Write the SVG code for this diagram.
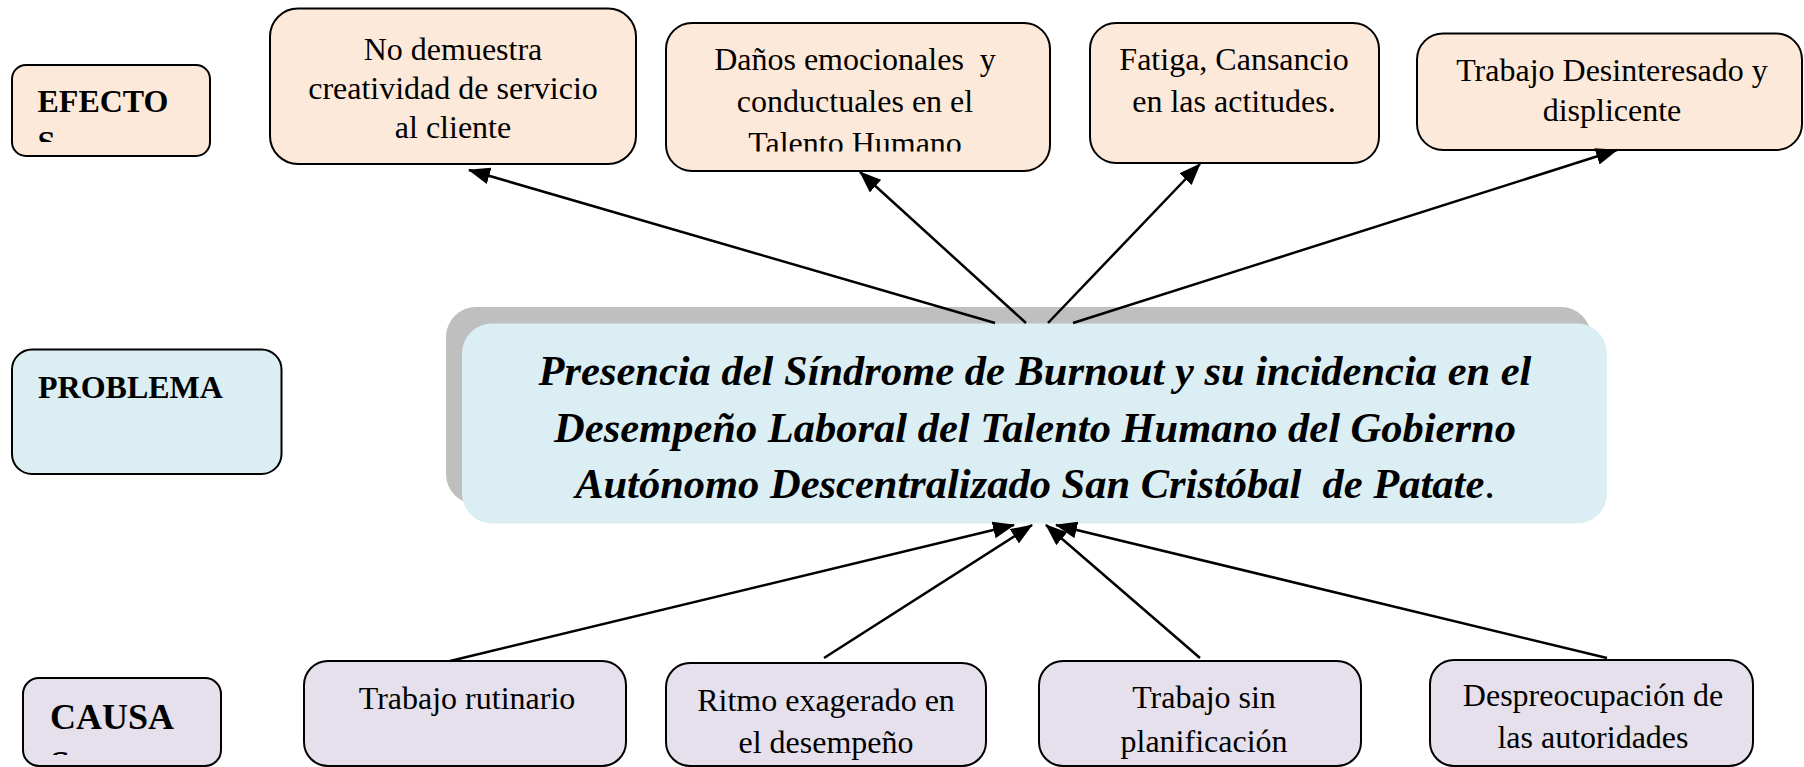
<svg xmlns="http://www.w3.org/2000/svg" width="1804" height="767" viewBox="0 0 1804 767">
<style>
.eff{fill:#FDE9D9;stroke:#000;stroke-width:2}
.cau{fill:#E5E0EC;stroke:#000;stroke-width:2}
.prb{fill:#DAEEF3;stroke:#000;stroke-width:2}
.t{font-family:'Liberation Serif','Times New Roman',serif;font-size:32px;fill:#000;text-anchor:middle;white-space:pre}
.lbl{font-family:'Liberation Serif','Times New Roman',serif;font-size:32px;font-weight:bold;fill:#000}
.main{font-family:'Liberation Serif','Times New Roman',serif;font-size:42.5px;font-weight:bold;font-style:italic;fill:#000;text-anchor:middle;white-space:pre}
.conn{stroke:#000;stroke-width:2.5;fill:none;marker-end:url(#ah)}
</style>
<defs>
<marker id="ah" markerUnits="userSpaceOnUse" markerWidth="22" markerHeight="17" refX="21" refY="8.5" orient="auto">
<path d="M0,0 L22,8.5 L0,17 Z" fill="#000"/>
</marker>
<clipPath id="clipEf"><rect x="12" y="65" width="198" height="77"/></clipPath>
<clipPath id="clipCa"><rect x="23" y="678" width="198" height="77"/></clipPath>
<clipPath id="clipE2"><rect x="666" y="23" width="384" height="128.5"/></clipPath>
</defs>

<g id="label-efectos">
<rect x="12" y="65" width="198" height="91" rx="14" class="eff"/>
<text class="lbl" clip-path="url(#clipEf)"><tspan x="37.5" y="111.5">EFECTO</tspan><tspan x="37.5" y="153">S</tspan></text>
</g>

<g id="efecto-1">
<rect x="270" y="8.5" width="366" height="155.5" rx="28" class="eff"/>
<text class="t"><tspan x="453" y="60">No demuestra</tspan><tspan x="453" y="99">creatividad de servicio</tspan><tspan x="453" y="138">al cliente</tspan></text>
</g>

<g id="efecto-2">
<rect x="666" y="23" width="384" height="148" rx="26" class="eff"/>
<text class="t" clip-path="url(#clipE2)"><tspan x="855" y="70">Daños emocionales  y</tspan><tspan x="855" y="112">conductuales en el</tspan><tspan x="855" y="154">Talento Humano</tspan></text>
</g>

<g id="efecto-3">
<rect x="1090" y="23" width="289" height="140" rx="26" class="eff"/>
<text class="t"><tspan x="1234" y="70">Fatiga, Cansancio</tspan><tspan x="1234" y="112">en las actitudes.</tspan></text>
</g>

<g id="efecto-4">
<rect x="1417" y="33.5" width="385" height="116.5" rx="26" class="eff"/>
<text class="t"><tspan x="1612" y="81">Trabajo Desinteresado y</tspan><tspan x="1612" y="121">displicente</tspan></text>
</g>

<g id="label-problema">
<rect x="12" y="349.5" width="269.5" height="124.5" rx="20" class="prb"/>
<text class="lbl" x="38" y="397.5">PROBLEMA</text>
</g>

<g id="problema">
<rect x="446" y="307" width="1145" height="197" rx="30" fill="#BFBFBF"/>
<rect x="462" y="323.5" width="1145" height="200" rx="30" fill="#DAEEF3"/>
<text class="main"><tspan x="1035" y="385">Presencia del Síndrome de Burnout y su incidencia en el</tspan><tspan x="1035" y="441.5">Desempeño Laboral del Talento Humano del Gobierno</tspan><tspan x="1035" y="498">Autónomo Descentralizado San Cristóbal  de Patate<tspan font-weight="normal" font-style="normal">.</tspan></tspan></text>
</g>

<g id="label-causas">
<rect x="23" y="678" width="198" height="88" rx="16" class="cau"/>
<text class="lbl" style="font-size:36px" clip-path="url(#clipCa)"><tspan x="50" y="729">CAUSA</tspan><tspan x="50" y="776">S</tspan></text>
</g>

<g id="causa-1">
<rect x="304" y="661" width="322" height="105" rx="24" class="cau"/>
<text class="t" x="467" y="709">Trabajo rutinario</text>
</g>

<g id="causa-2">
<rect x="666" y="663" width="320" height="103" rx="24" class="cau"/>
<text class="t"><tspan x="826" y="711">Ritmo exagerado en</tspan><tspan x="826" y="753">el desempeño</tspan></text>
</g>

<g id="causa-3">
<rect x="1039" y="661" width="322" height="105" rx="24" class="cau"/>
<text class="t"><tspan x="1204" y="708">Trabajo sin</tspan><tspan x="1204" y="752">planificación</tspan></text>
</g>

<g id="causa-4">
<rect x="1430" y="660" width="323" height="106" rx="24" class="cau"/>
<text class="t"><tspan x="1593" y="706">Despreocupación de</tspan><tspan x="1593" y="748">las autoridades</tspan></text>
</g>

<g id="connectors">
<line class="conn" x1="995" y1="323" x2="469" y2="170"/>
<line class="conn" x1="1026" y1="323" x2="860" y2="172"/>
<line class="conn" x1="1048" y1="323" x2="1200" y2="164"/>
<line class="conn" x1="1073" y1="323" x2="1617" y2="150"/>
<line class="conn" x1="450" y1="661" x2="1014" y2="525"/>
<line class="conn" x1="824" y1="658" x2="1032" y2="525"/>
<line class="conn" x1="1200" y1="658" x2="1046" y2="525"/>
<line class="conn" x1="1607" y1="658" x2="1056" y2="525"/>
</g>
</svg>
